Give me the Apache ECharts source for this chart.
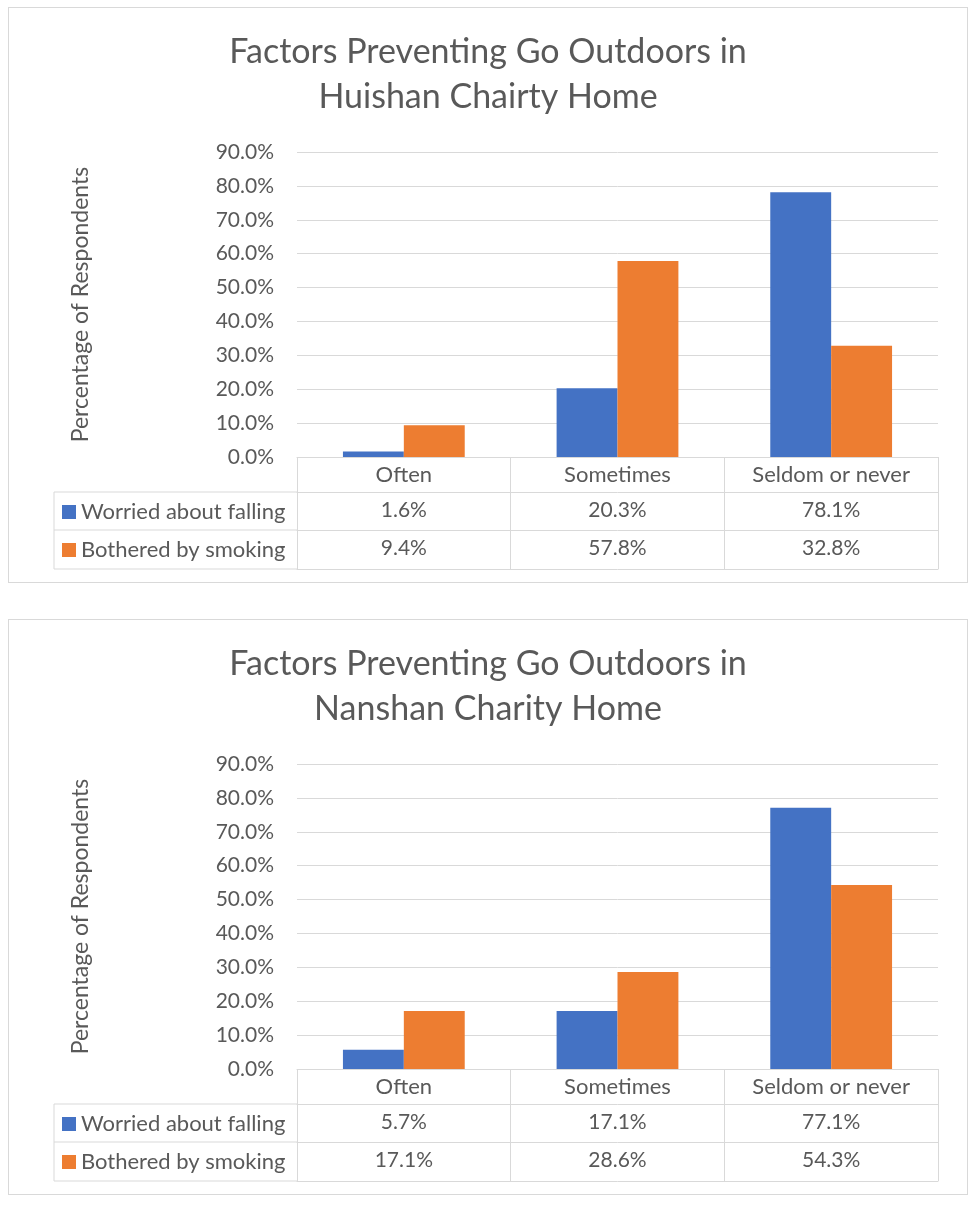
<!DOCTYPE html>
<html lang="en">
	<head>
		<meta charset="utf-8">
		<title>Factors Preventing Go Outdoors</title>
		<script src="https://cdn.jsdelivr.net/npm/echarts@6/dist/echarts.min.js"></script>
		<style>
			html, body { margin: 0; padding: 0; background: #fff; }
			.box { position: absolute; left: 8px; width: 958px; height: 574px; border: 1px solid #d9d9d9; }
		</style>
	</head>

	<body>
		<div id="chart-huishan" class="box" style="top: 7px;"></div>
		<div id="chart-nanshan" class="box" style="top: 619px;"></div>

		<script type="text/javascript">
			// chart data
			var categories = ['Often', 'Sometimes', 'Seldom or never'];
			var seriesNames = ['Worried about falling', 'Bothered by smoking'];
			var huishanFalling = [1.6, 20.3, 78.1];
			var huishanSmoking = [9.4, 57.8, 32.8];
			var nanshanFalling = [5.7, 17.1, 77.1];
			var nanshanSmoking = [17.1, 28.6, 54.3];
			var yMax = 90;
			var yStep = 10;

			var FONT = 'Lato, "Liberation Sans", sans-serif';
			var TEXT = '#595959';
			var LINE = '#d9d9d9';
			var COLORS = ['#4472C4', '#ED7D31'];

			function pct(v) {
				return v.toFixed(1) + '%';
			}

			// one extra x axis per table row, the labels are the row values
			function rowAxis(offset, values) {
				return {
					type: 'category',
					data: categories,
					position: 'bottom',
					offset: offset,
					axisLine: { show: true, lineStyle: { color: LINE, width: 1 } },
					axisTick: { show: false },
					axisLabel: {
						show: values != null,
						interval: 0,
						hideOverlap: false,
						margin: 8,
						fontFamily: FONT,
						fontSize: 21,
						color: TEXT,
						formatter: function (v, i) { return values ? pct(values[i]) : ''; }
					}
				};
			}

			function buildOption(title, falling, smoking) {
				return {
					animation: false,
					color: COLORS,
					title: {
						text: title,
						left: 'center',
						top: 22,
						padding: 0,
						textStyle: {
							fontFamily: FONT,
							fontSize: 34,
							fontWeight: 'normal',
							color: TEXT,
							lineHeight: 45
						}
					},
					legend: {
						orient: 'vertical',
						left: 53,
						top: 492,
						padding: 0,
						itemWidth: 14,
						itemHeight: 14,
						itemGap: 14,
						icon: 'rect',
						selectedMode: false,
						data: seriesNames,
						textStyle: { fontFamily: FONT, fontSize: 22, color: TEXT, lineHeight: 24 }
					},
					grid: { left: 288, right: 29, top: 144, height: 305 },
					xAxis: [
						{
							type: 'category',
							data: categories,
							position: 'bottom',
							axisLine: { show: true, lineStyle: { color: LINE, width: 1 } },
							axisTick: { show: true, interval: 0, length: 112, lineStyle: { color: LINE, width: 1 } },
							axisLabel: { interval: 0, hideOverlap: false, margin: 7, fontFamily: FONT, fontSize: 22, color: TEXT }
						},
						rowAxis(35, falling),
						rowAxis(73, smoking),
						rowAxis(112, null)
					],
					yAxis: {
						type: 'value',
						min: 0,
						max: yMax,
						interval: yStep,
						name: 'Percentage of Respondents',
						nameLocation: 'middle',
						nameGap: 205,
						nameTextStyle: { fontFamily: FONT, fontSize: 23, color: TEXT },
						axisLine: { show: false },
						axisTick: { show: false },
						axisLabel: {
							margin: 23,
							fontFamily: FONT,
							fontSize: 21,
							color: TEXT,
							formatter: function (v) { return pct(v); }
						},
						splitLine: { lineStyle: { color: LINE, width: 1 } }
					},
					// left column of the data table
					graphic: [
						{ type: 'line', shape: { x1: 45, y1: 484, x2: 288, y2: 484 }, style: { stroke: LINE, lineWidth: 1 } },
						{ type: 'line', shape: { x1: 45, y1: 522, x2: 288, y2: 522 }, style: { stroke: LINE, lineWidth: 1 } },
						{ type: 'line', shape: { x1: 45, y1: 561, x2: 288, y2: 561 }, style: { stroke: LINE, lineWidth: 1 } },
						{ type: 'line', shape: { x1: 45, y1: 484, x2: 45, y2: 561 }, style: { stroke: LINE, lineWidth: 1 } }
					],
					series: [
						{
							name: seriesNames[0],
							type: 'bar',
							barGap: 0,
							barCategoryGap: '43%',
							data: falling
						},
						{
							name: seriesNames[1],
							type: 'bar',
							barGap: 0,
							barCategoryGap: '43%',
							data: smoking
						}
					]
				};
			}

			var huishanChart = echarts.init(document.getElementById('chart-huishan'));
			huishanChart.setOption(buildOption('Factors Preventing Go Outdoors in\nHuishan Chairty Home', huishanFalling, huishanSmoking));

			var nanshanChart = echarts.init(document.getElementById('chart-nanshan'));
			nanshanChart.setOption(buildOption('Factors Preventing Go Outdoors in\nNanshan Charity Home', nanshanFalling, nanshanSmoking));
		</script>
	</body>
</html>
